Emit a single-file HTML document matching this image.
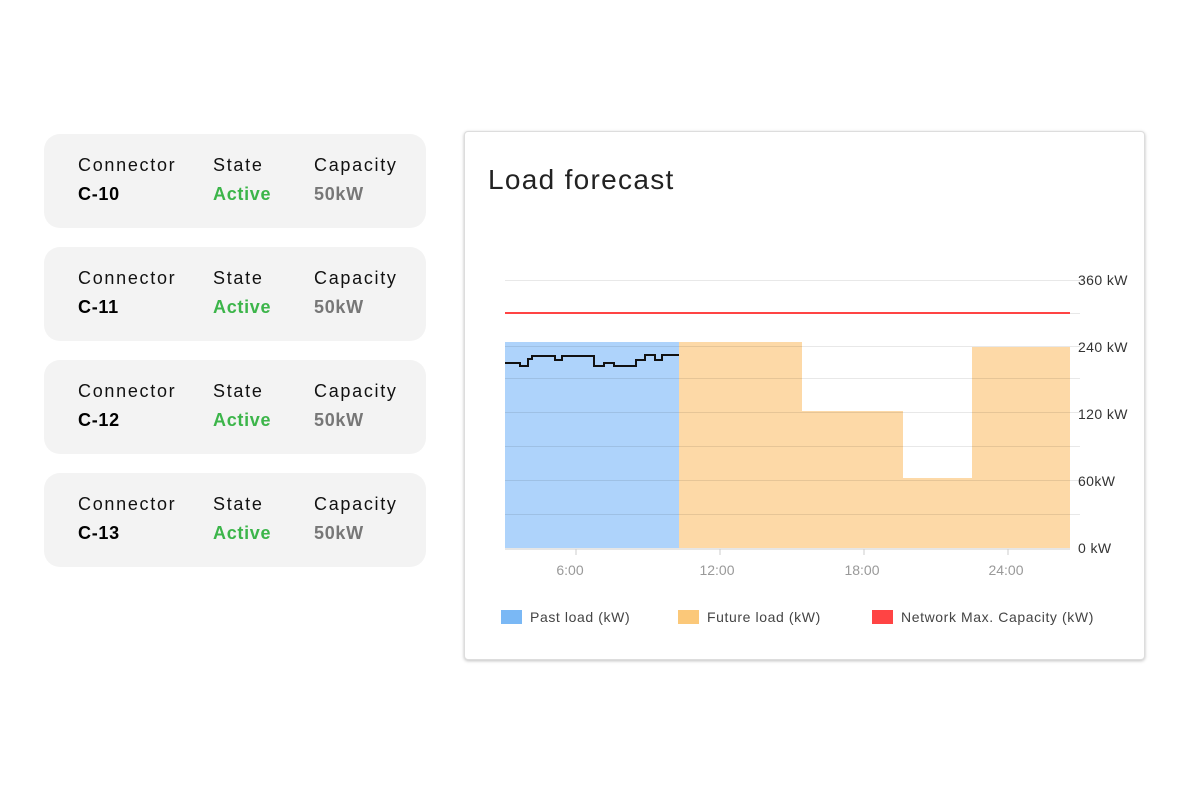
<!DOCTYPE html>
<html><head><style>
body{margin:0;width:1200px;height:800px;background:#fff;font-family:"Liberation Sans",sans-serif;position:relative;overflow:hidden}
.card{position:absolute;left:44px;width:382px;height:94px;background:#f3f3f3;border-radius:16px}
.t{position:absolute;font-size:18px;color:#111;letter-spacing:1.7px}
.v{position:absolute;font-size:18px;font-weight:bold;letter-spacing:0.7px}
.panel{position:absolute;left:464px;top:131px;width:679px;height:527px;border:1px solid #ddd;border-radius:4px;box-shadow:0 1px 3px rgba(0,0,0,.25);background:#fff}
</style></head><body>
<div class="card" style="top:134px"><span class="t" style="left:34px;top:21px">Connector</span><span class="t" style="left:169px;top:21px">State</span><span class="t" style="left:270px;top:21px">Capacity</span><span class="v" style="left:34px;top:50px">C-10</span><span class="v" style="left:169px;top:50px;color:#3cb54a">Active</span><span class="v" style="left:270px;top:50px;color:#777">50kW</span></div>
<div class="card" style="top:247px"><span class="t" style="left:34px;top:21px">Connector</span><span class="t" style="left:169px;top:21px">State</span><span class="t" style="left:270px;top:21px">Capacity</span><span class="v" style="left:34px;top:50px">C-11</span><span class="v" style="left:169px;top:50px;color:#3cb54a">Active</span><span class="v" style="left:270px;top:50px;color:#777">50kW</span></div>
<div class="card" style="top:360px"><span class="t" style="left:34px;top:21px">Connector</span><span class="t" style="left:169px;top:21px">State</span><span class="t" style="left:270px;top:21px">Capacity</span><span class="v" style="left:34px;top:50px">C-12</span><span class="v" style="left:169px;top:50px;color:#3cb54a">Active</span><span class="v" style="left:270px;top:50px;color:#777">50kW</span></div>
<div class="card" style="top:473px"><span class="t" style="left:34px;top:21px">Connector</span><span class="t" style="left:169px;top:21px">State</span><span class="t" style="left:270px;top:21px">Capacity</span><span class="v" style="left:34px;top:50px">C-13</span><span class="v" style="left:169px;top:50px;color:#3cb54a">Active</span><span class="v" style="left:270px;top:50px;color:#777">50kW</span></div>
<div class="panel"></div>
<div style="position:absolute;left:488px;top:164px;font-size:28px;color:#222;letter-spacing:1.3px">Load forecast</div>
<svg style="position:absolute;left:0;top:0" width="1200" height="800" font-family="Liberation Sans, sans-serif">
<rect x="505" y="342" width="174" height="206" fill="#aed3fb"/>
<path d="M679 548V342H802V411H903V478H972V347H1070V548Z" fill="#fdd9a7"/>
<g stroke="#000" stroke-opacity="0.09" stroke-width="1">
<line x1="505" x2="1080" y1="280.5" y2="280.5"/><line x1="505" x2="1080" y1="313.5" y2="313.5"/><line x1="505" x2="1080" y1="346.5" y2="346.5"/><line x1="505" x2="1080" y1="378.5" y2="378.5"/><line x1="505" x2="1080" y1="412.5" y2="412.5"/><line x1="505" x2="1080" y1="446.5" y2="446.5"/><line x1="505" x2="1080" y1="480.5" y2="480.5"/><line x1="505" x2="1080" y1="514.5" y2="514.5"/>
</g>
<line x1="505" x2="1070" y1="313" y2="313" stroke="#f44" stroke-width="2"/>
<path d="M505 363H520V366H528V359H532V356H555V360H562V356H594V366H604V363H614V366H636V360H645V355H655V360H662V355H679" fill="none" stroke="#111" stroke-width="2"/>
<line x1="505" x2="1070" y1="549" y2="549" stroke="#ccc"/>
<g stroke="#ccc"><line x1="576" x2="576" y1="549" y2="555"/><line x1="720" x2="720" y1="549" y2="555"/><line x1="864" x2="864" y1="549" y2="555"/><line x1="1008" x2="1008" y1="549" y2="555"/></g>
<g font-size="14" fill="#999" text-anchor="middle"><text x="570" y="575">6:00</text><text x="717" y="575">12:00</text><text x="862" y="575">18:00</text><text x="1006" y="575">24:00</text></g>
<g font-size="14" fill="#333" letter-spacing="0.4"><text x="1078" y="285">360 kW</text><text x="1078" y="352">240 kW</text><text x="1078" y="419">120 kW</text><text x="1078" y="486">60kW</text><text x="1078" y="553">0 kW</text></g>
<g font-size="14" fill="#444" letter-spacing="0.6">
<rect x="501" y="610" width="21" height="14" fill="#7ab8f5"/><text x="530" y="622">Past load (kW)</text>
<rect x="678" y="610" width="21" height="14" fill="#fbc879"/><text x="707" y="622">Future load (kW)</text>
<rect x="872" y="610" width="21" height="14" fill="#f44"/><text x="901" y="622">Network Max. Capacity (kW)</text>
</g>
</svg>
</body></html>
